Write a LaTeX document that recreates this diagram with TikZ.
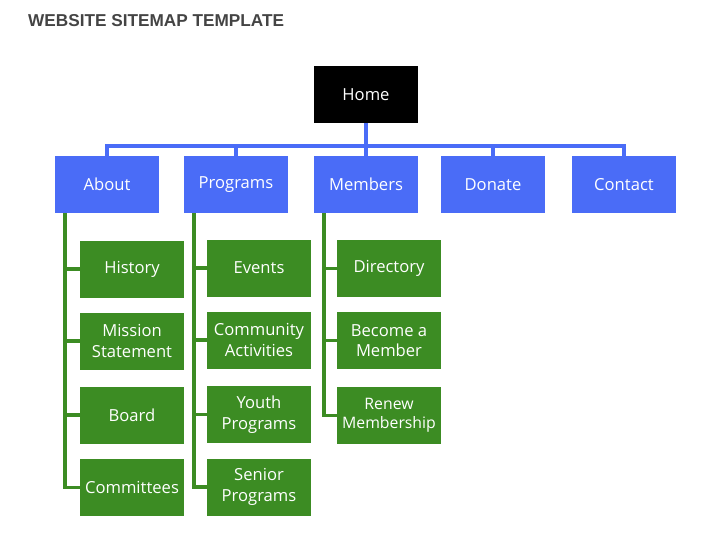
\documentclass[tikz,border=0pt]{standalone}
\usepackage{fontspec}
\setmainfont{Open Sans}
\newfontfamily\titlefont{Liberation Sans}
\definecolor{mapblue}{HTML}{4A6CF7}
\definecolor{mapgreen}{HTML}{3C8C23}
\definecolor{titlegray}{HTML}{444444}

\begin{document}
\begin{tikzpicture}[x=1pt, y=-1pt,
    page/.style={minimum width=104pt, minimum height=57pt, inner sep=0pt,
        text=white, align=center, font=\fontsize{16.6}{20.5}\selectfont},
    homepage/.style={page, fill=black},
    toppage/.style={page, fill=mapblue},
    subpage/.style={page, fill=mapgreen},
    blueline/.style={draw=mapblue, line width=4pt},
    greenline/.style={draw=mapgreen, line width=3.5pt}]
    \useasboundingbox (0,0) rectangle (725,540);

    % title
    \node[anchor=base west, inner sep=0pt, text=titlegray,
        font=\titlefont\bfseries\fontsize{17.2}{20}\selectfont] (title) at (28,27) {WEBSITE SITEMAP TEMPLATE};

    % home and top level pages
    \node[homepage] (home) at (366,94.5) {Home};
    \node[toppage] (about) at (107,184.5) {About};
    \node[toppage] (programs) at (236,184.5) {Programs};
    \node[toppage] (members) at (366,184.5) {Members};
    \node[toppage] (donate) at (493,184.5) {Donate};
    \node[toppage] (contact) at (624,184.5) {Contact};

    % second level pages
    \node[subpage] (history) at (132,269) {History};
    \node[subpage] (mission) at (132,341) {Mission\\Statement};
    \node[subpage] (board) at (132,415) {Board};
    \node[subpage] (committees) at (132,487.5) {Committees};

    \node[subpage] (events) at (259,268) {Events};
    \node[subpage] (community) at (259,340) {Community\\Activities};
    \node[subpage] (youth) at (259,414.5) {Youth\\Programs};
    \node[subpage] (senior) at (259,487) {Senior\\Programs};

    \node[subpage] (directory) at (389,268.5) {Directory};
    \node[subpage] (become) at (389,340.5) {Become a\\Member};
    \node[subpage, font=\fontsize{15.8}{19}\selectfont] (renew) at (389,415.5) {Renew\\Membership};

    % blue connectors
    \coordinate (hub) at ([yshift=-23pt]home.south);
    \draw[blueline] (home.south) -- (hub);
    \foreach \n in {about,programs,members,donate,contact}
        \draw[blueline] (hub) -| (\n.north);

    % green connectors
    \foreach \p/\c in {about/history, about/mission, about/board, about/committees,
        programs/events, programs/community, programs/youth, programs/senior,
        members/directory, members/become, members/renew}
        \draw[greenline] ([xshift=10pt]\p.south west) |- (\c.west);
\end{tikzpicture}
\end{document}
